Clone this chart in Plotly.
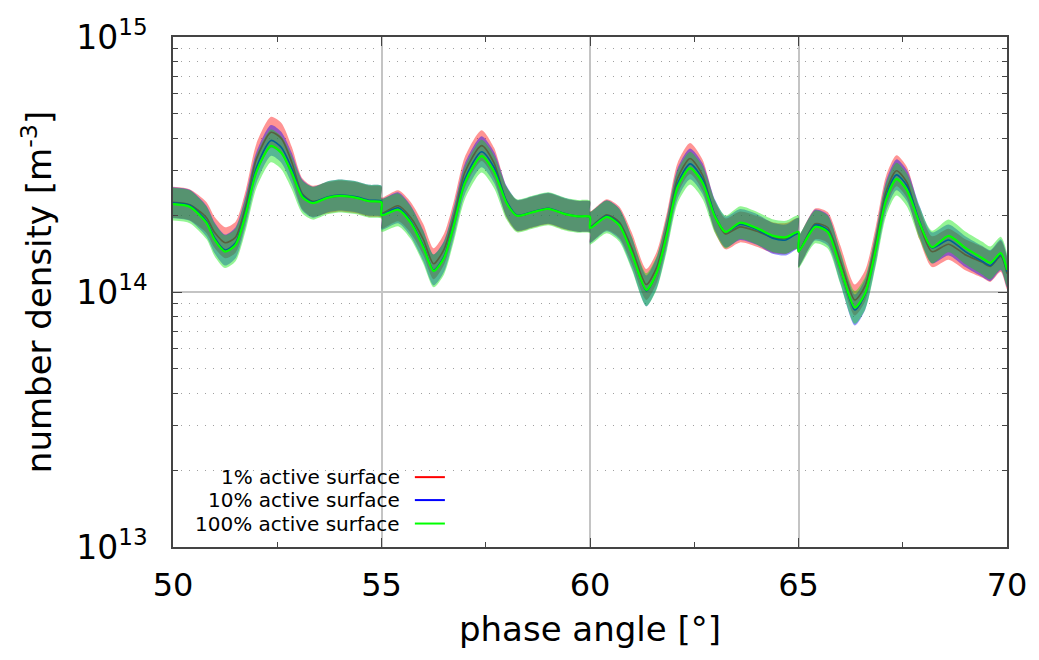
import plotly.graph_objects as go

# phase angle [deg]; segments are joined at 55, 60 and 65 deg (duplicate x = jump)
phase_angle = [50.0, 50.4, 50.8, 51.0, 51.25, 51.5, 51.75, 52.0, 52.35, 52.6, 52.85, 53.1, 53.35, 53.7, 54.0, 54.4, 54.7, 55.0,
               55.0, 55.4, 55.7, 56.0, 56.25, 56.5, 56.75, 57.0, 57.4, 57.7, 58.0, 58.25, 58.6, 59.0, 59.4, 59.7, 60.0,
               60.0, 60.4, 60.7, 61.0, 61.35, 61.6, 61.85, 62.1, 62.4, 62.7, 63.0, 63.25, 63.6, 64.0, 64.4, 64.7, 65.0,
               65.0, 65.4, 65.7, 66.0, 66.35, 66.6, 66.85, 67.1, 67.35, 67.6, 67.9, 68.2, 68.6, 69.0, 69.4, 69.6, 69.85, 70.0]

# number density in units of 1e14 m^-3
density_1pct = [2.25, 2.20, 1.96, 1.71, 1.56, 1.64, 2.20, 3.32, 4.23, 4.00, 3.22, 2.43, 2.27, 2.34, 2.38, 2.34, 2.27, 2.25,
                2.04, 2.18, 1.96, 1.61, 1.29, 1.47, 2.02, 2.95, 3.75, 3.20, 2.25, 1.99, 2.05, 2.12, 2.02, 1.98, 1.97,
                1.80, 2.01, 1.88, 1.49, 1.07, 1.25, 1.80, 2.79, 3.34, 2.87, 1.97, 1.69, 1.80, 1.73, 1.63, 1.62, 1.70,
                1.44, 1.85, 1.79, 1.33, 0.93, 1.06, 1.56, 2.48, 2.99, 2.69, 1.85, 1.44, 1.54, 1.40, 1.31, 1.26, 1.38, 1.18]
density_10pct = [2.24, 2.19, 1.90, 1.63, 1.46, 1.56, 2.10, 3.08, 3.93, 3.69, 3.05, 2.40, 2.25, 2.36, 2.40, 2.36, 2.29, 2.27,
                 2.02, 2.14, 1.90, 1.52, 1.22, 1.38, 1.92, 2.78, 3.55, 3.08, 2.27, 2.00, 2.06, 2.13, 2.03, 1.98, 1.97,
                 1.79, 1.99, 1.85, 1.43, 1.01, 1.19, 1.73, 2.66, 3.18, 2.78, 2.00, 1.72, 1.84, 1.76, 1.62, 1.60, 1.70,
                 1.44, 1.83, 1.75, 1.25, 0.85, 0.98, 1.48, 2.37, 2.88, 2.61, 1.90, 1.49, 1.60, 1.44, 1.32, 1.27, 1.40, 1.20]
density_100pct = [2.21, 2.16, 1.87, 1.60, 1.44, 1.53, 2.04, 2.96, 3.74, 3.51, 2.93, 2.36, 2.23, 2.34, 2.38, 2.34, 2.27, 2.25,
                  2.00, 2.10, 1.87, 1.50, 1.21, 1.36, 1.87, 2.68, 3.41, 2.96, 2.23, 1.99, 2.05, 2.12, 2.02, 1.98, 1.97,
                  1.78, 1.97, 1.83, 1.42, 1.02, 1.19, 1.70, 2.58, 3.06, 2.68, 1.97, 1.72, 1.87, 1.78, 1.66, 1.64, 1.72,
                  1.44, 1.80, 1.72, 1.25, 0.87, 0.99, 1.46, 2.30, 2.77, 2.51, 1.87, 1.50, 1.66, 1.49, 1.36, 1.30, 1.42, 1.22]

# multiplicative spread of the shaded uncertainty band
spread = [1.15, 1.15, 1.16]

series_names = ["1% active surface", "10% active surface", "100% active surface"]
series_data = [density_1pct, density_10pct, density_100pct]
line_colors = ["#ff0000", "#0000ff", "#00ff00"]
fill_colors = ["rgba(255,0,0,0.42)", "rgba(0,0,255,0.42)", "rgba(0,230,0,0.42)"]
line_widths = [1.6, 1.6, 2.2]

y_tickvals = [1e13, 1e14, 1e15]
y_ticktext = ["10<sup>13</sup>", "10<sup>14</sup>", "10<sup>15</sup>"]
y_minor = [m * 10 ** e for e in (13, 14) for m in range(2, 10)]
x_tickvals = [50, 55, 60, 65, 70]

FONT = "DejaVu Sans"
fig = go.Figure()

for name, dens, lc, fc, lw, sp in zip(series_names, series_data, line_colors, fill_colors, line_widths, spread):
    y = [v * 1e14 for v in dens]
    upper = [v * sp for v in y]
    lower = [v / sp for v in y]
    fig.add_trace(go.Scatter(
        x=phase_angle + phase_angle[::-1], y=upper + lower[::-1],
        fill="toself", fillcolor=fc, line=dict(width=0, shape="spline", smoothing=0.7),
        mode="lines", hoverinfo="skip", showlegend=False))
    fig.add_trace(go.Scatter(
        x=phase_angle, y=y, mode="lines", name=name,
        line=dict(color=lc, width=lw, shape="spline", smoothing=0.7), showlegend=False))

# gnuplot-style key: text right-aligned, sample line on the right
key_rows = [0.137, 0.092, 0.046]
for name, lc, ky in zip(series_names, line_colors, key_rows):
    fig.add_annotation(xref="paper", yref="paper", x=0.274, y=ky, text=name, showarrow=False,
                       xanchor="right", yanchor="middle", font=dict(family=FONT, size=20, color="#000"))
    fig.add_shape(type="line", xref="paper", yref="paper", x0=0.290, x1=0.326, y0=ky, y1=ky,
                  line=dict(color=lc, width=2))

frame = "#444444"
fig.update_xaxes(
    range=[50, 70], tickmode="array", tickvals=x_tickvals, ticktext=[str(v) for v in x_tickvals],
    ticks="inside", ticklen=9, tickcolor=frame, tickwidth=1.2,
    showline=True, linecolor=frame, linewidth=1.5, mirror="ticks",
    showgrid=True, gridcolor="#c4c4c4", gridwidth=1.5, zeroline=False,
    minor=dict(tickmode="array", tickvals=[52.5, 57.5, 62.5, 67.5], ticks="inside", ticklen=5,
               tickcolor=frame, showgrid=False),
    tickfont=dict(family=FONT, size=32, color="#000"), ticklabelstandoff=9,
    title=dict(text="phase angle [°]", font=dict(family=FONT, size=34, color="#000"), standoff=14),
)
fig.update_yaxes(
    type="log", range=[13, 15], tickmode="array", tickvals=y_tickvals, ticktext=y_ticktext,
    ticks="inside", ticklen=9, tickcolor=frame, tickwidth=1.2,
    showline=True, linecolor=frame, linewidth=1.5, mirror="ticks",
    showgrid=True, gridcolor="#c4c4c4", gridwidth=1.5, zeroline=False,
    minor=dict(tickmode="array", tickvals=y_minor, ticks="inside", ticklen=5, tickcolor=frame,
               showgrid=True, gridcolor="#a0a0a0", gridwidth=1, griddash="1px,7px"),
    tickfont=dict(family=FONT, size=33, color="#000"), ticklabelstandoff=17,
    title=dict(text="number density [m<sup>-3</sup>]", font=dict(family=FONT, size=34, color="#000"), standoff=14),
)
fig.update_layout(
    width=1039, height=660, autosize=False,
    margin=dict(l=173, r=32, t=37, b=113),
    paper_bgcolor="white", plot_bgcolor="white",
    font=dict(family=FONT, color="#000"),
)
fig.write_html("out.html")
